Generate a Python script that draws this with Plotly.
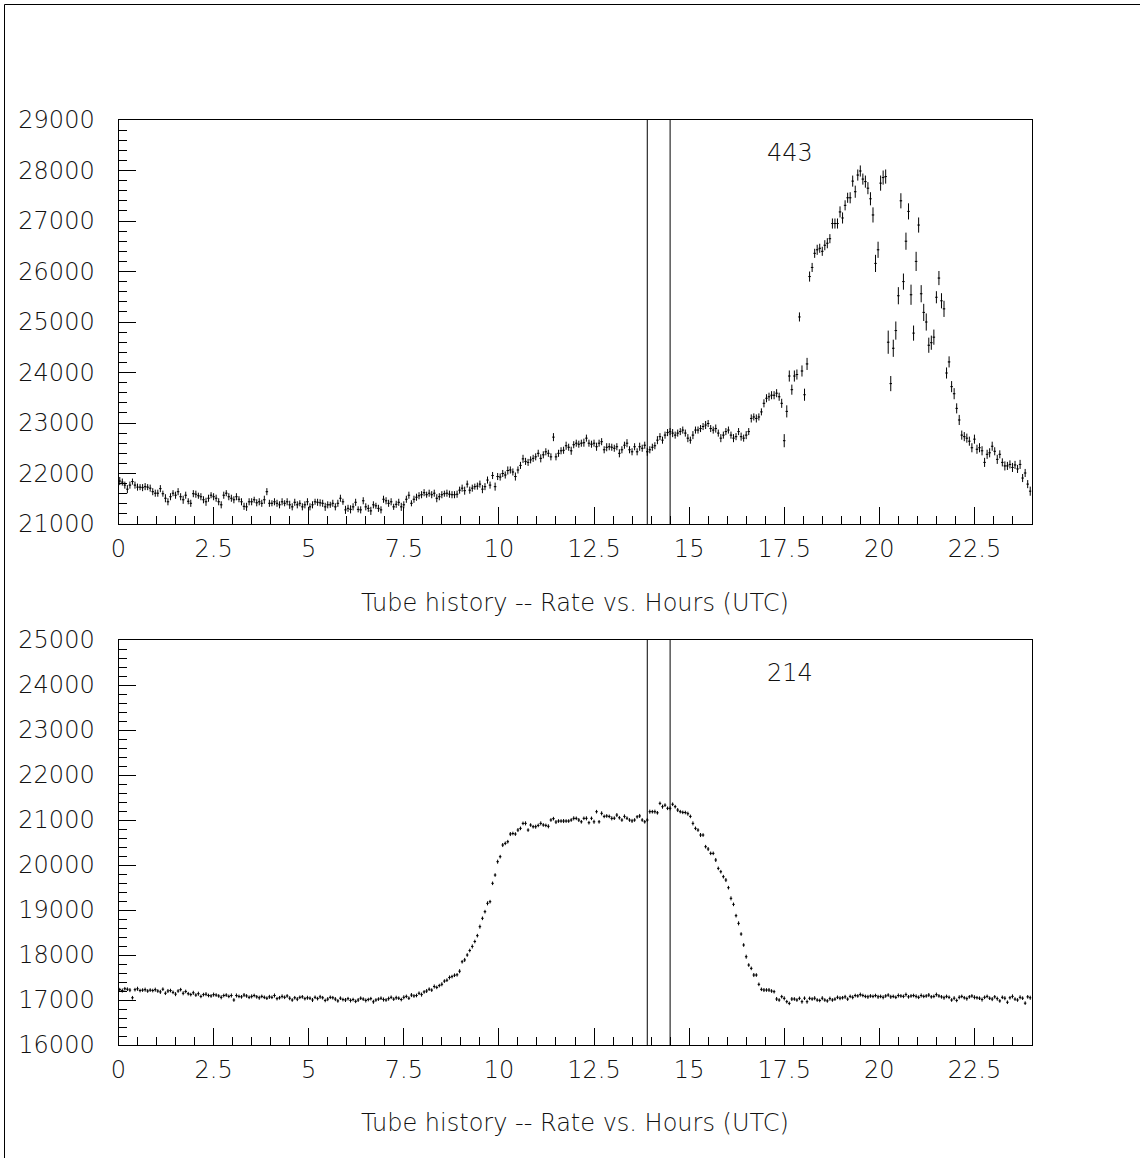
import plotly.graph_objects as go

# ---------------- data ----------------
bin_width_h = 4.0 / 60.0          # 4-minute bins
n_bins = 360
bin_centers = [(i + 0.5) * bin_width_h for i in range(n_bins)]

tube_top = "443"
tube_bottom = "214"
marker_hours = [13.9, 14.5]
x_title = "Tube history -- Rate vs. Hours (UTC)"

# rate of tube 443 (15 bins per hour, one row per hour)
rate_443 = [
    21850, 21830, 21770, 21690, 21770, 21840, 21770, 21730, 21730, 21720, 21740, 21730, 21710, 21640, 21610,
    21610, 21700, 21600, 21510, 21440, 21540, 21610, 21570, 21640, 21540, 21480, 21570, 21450, 21410, 21600,
    21590, 21560, 21540, 21480, 21440, 21510, 21570, 21540, 21510, 21440, 21380, 21570, 21610, 21540, 21510,
    21480, 21540, 21490, 21440, 21350, 21340, 21440, 21440, 21480, 21420, 21440, 21410, 21480, 21640, 21410,
    21410, 21440, 21410, 21380, 21440, 21410, 21440, 21380, 21340, 21430, 21380, 21410, 21340, 21380, 21440,
    21340, 21380, 21440, 21430, 21420, 21410, 21340, 21380, 21380, 21410, 21340, 21410, 21510, 21440, 21280,
    21310, 21290, 21340, 21430, 21290, 21280, 21460, 21340, 21310, 21260, 21380, 21360, 21310, 21280, 21490,
    21460, 21410, 21440, 21340, 21390, 21430, 21340, 21380, 21490, 21570, 21410, 21490, 21530, 21560, 21580,
    21620, 21580, 21610, 21580, 21610, 21510, 21540, 21580, 21600, 21610, 21590, 21580, 21580, 21590, 21670,
    21710, 21660, 21790, 21670, 21710, 21740, 21750, 21790, 21690, 21740, 21870, 21770, 21960, 21740, 21940,
    21930, 22000, 21970, 22060, 22070, 22030, 21940, 22070, 22160, 22290, 22240, 22220, 22270, 22300, 22330,
    22400, 22300, 22370, 22430, 22400, 22330, 22720, 22330, 22400, 22450, 22460, 22550, 22520, 22450, 22570,
    22600, 22580, 22600, 22610, 22700, 22600, 22580, 22600, 22530, 22600, 22630, 22470, 22520, 22530, 22520,
    22500, 22530, 22400, 22470, 22560, 22600, 22470, 22430, 22530, 22430, 22530, 22500, 22560, 22430, 22470,
    22520, 22550, 22660, 22730, 22660, 22760, 22810, 22830, 22800, 22760, 22800, 22830, 22860, 22800, 22700,
    22660, 22760, 22860, 22860, 22890, 22930, 22960, 22990, 22890, 22860, 22890, 22800, 22700, 22760, 22830,
    22860, 22760, 22700, 22730, 22830, 22730, 22700, 22760, 22830, 23090, 23120, 23090, 23120, 23220, 23390,
    23490, 23520, 23550, 23550, 23590, 23520, 23390, 22650, 23230, 23930, 23660, 23930, 23960, 25100, 24030,
    23560, 24170, 25900, 26080, 26360, 26430, 26460, 26400, 26520, 26560, 26650, 26950, 26950, 26950, 27180,
    27060, 27310, 27460, 27460, 27790, 27580, 27910, 27990, 27830, 27780, 27650, 27440, 27120, 26160, 26430,
    27750, 27860, 27880, 24600, 23780, 24480, 24830, 25520, 27400, 25800, 26600, 27190, 25540, 24780, 26200,
    26920, 25560, 25190, 25000, 24540, 24590, 24700, 25490, 25870, 25420, 25260, 23990, 24210, 23720, 23580,
    23290, 23060, 22760, 22730, 22700, 22640, 22510, 22680, 22480, 22510, 22450, 22220, 22380, 22410, 22540,
    22440, 22280, 22380, 22220, 22150, 22150, 22180, 22120, 22170, 22090, 22180, 21910, 22010, 21790, 21650,
]

err_443 = [
    80, 70, 70, 80, 70, 60, 70, 70, 60, 70, 70, 60, 70, 70, 70,
    70, 70, 60, 80, 70, 70, 60, 70, 70, 70, 80, 70, 60, 70, 70,
    70, 60, 70, 70, 80, 70, 60, 70, 70, 70, 70, 70, 60, 70, 70,
    70, 70, 60, 70, 70, 80, 70, 70, 60, 70, 70, 70, 80, 70, 70,
    60, 70, 70, 70, 70, 60, 70, 80, 70, 70, 70, 60, 70, 70, 70,
    70, 70, 60, 70, 70, 70, 80, 70, 60, 70, 70, 70, 70, 60, 80,
    70, 80, 70, 70, 60, 70, 70, 70, 70, 80, 70, 60, 70, 70, 70,
    70, 70, 70, 60, 70, 70, 80, 70, 70, 70, 60, 70, 70, 70, 70,
    70, 60, 70, 70, 70, 80, 70, 70, 60, 70, 70, 70, 70, 70, 70,
    70, 80, 70, 70, 70, 60, 70, 70, 80, 70, 70, 70, 70, 80, 70,
    70, 70, 70, 80, 70, 70, 80, 70, 70, 80, 70, 70, 70, 70, 70,
    70, 80, 70, 70, 70, 70, 80, 70, 70, 70, 70, 80, 70, 80, 70,
    70, 70, 70, 80, 70, 70, 70, 70, 80, 70, 70, 70, 80, 70, 70,
    70, 70, 80, 70, 70, 80, 70, 70, 70, 70, 80, 70, 70, 80, 70,
    70, 70, 80, 70, 70, 70, 70, 70, 80, 70, 70, 70, 70, 70, 80,
    70, 80, 70, 70, 70, 70, 80, 70, 70, 70, 80, 70, 80, 70, 70,
    70, 70, 80, 70, 70, 80, 70, 80, 70, 80, 70, 80, 70, 70, 80,
    80, 80, 80, 80, 80, 80, 90, 130, 120, 110, 100, 110, 100, 90, 110,
    120, 120, 100, 90, 90, 100, 90, 90, 100, 100, 90, 100, 100, 100, 110,
    110, 100, 100, 110, 110, 120, 110, 110, 110, 120, 120, 130, 150, 170, 160,
    150, 140, 140, 230, 150, 170, 180, 170, 150, 160, 170, 160, 200, 150, 190,
    150, 170, 170, 170, 150, 140, 150, 120, 140, 150, 160, 110, 110, 110, 110,
    100, 100, 90, 90, 90, 90, 90, 90, 90, 90, 90, 90, 90, 90, 90,
    80, 90, 80, 80, 90, 80, 80, 90, 80, 80, 90, 80, 80, 80, 90,
]

# rate of tube 214
rate_214 = [
    17230, 17210, 17250, 17240, 17220, 17050, 17230, 17250, 17210, 17220, 17230, 17200, 17220, 17210, 17230,
    17200, 17180, 17240, 17150, 17200, 17210, 17170, 17130, 17200, 17230, 17150, 17190, 17140, 17120, 17160,
    17110, 17140, 17080, 17120, 17130, 17100, 17090, 17120, 17110, 17090, 17060, 17100, 17110, 17080, 17100,
    17000, 17100, 17080, 17070, 17110, 17090, 17060, 17080, 17100, 17070, 17050, 17080, 17060, 17040, 17070,
    17060, 17100, 17030, 17050, 17080, 17060, 17090, 17040, 17000, 17050, 17020, 17060, 17070, 17030, 17050,
    17040, 17000, 17060, 17030, 17070, 17050, 16990, 17020, 17060, 17050, 17020, 16980, 17040, 17010, 17000,
    17030, 16990, 17010, 16970, 17000, 17040, 17020, 16990, 17010, 17030, 16960, 17000, 17020, 17040, 17010,
    17000, 17030, 17060, 17020, 17050, 17040, 17010, 17060, 17080, 17040, 17110, 17090, 17100, 17150, 17120,
    17180, 17200, 17240, 17220, 17300, 17280, 17320, 17350, 17420, 17440, 17500, 17520, 17550, 17560, 17640,
    17850, 17890, 18000, 18100, 18190, 18300, 18430, 18630, 18815, 18963, 19148, 19185, 19593, 19777, 20074,
    20185, 20444, 20481, 20518, 20688, 20700, 20688, 20777, 20814, 20925, 20925, 20777, 20888, 20851, 20851,
    20880, 20925, 20890, 20880, 20860, 21000, 21030, 20955, 20977, 20977, 20977, 20977, 20977, 21000, 21037,
    21037, 21000, 20960, 21037, 21037, 20940, 21037, 20960, 21185, 20960, 21148, 21080, 21090, 21080, 21037,
    21040, 21110, 21050, 21000, 21080, 21040, 21000, 20980, 21000, 21070, 21090, 21000, 20960, 21000, 21185,
    21185, 21185, 21160, 21370, 21296, 21330, 21260, 21260, 21350, 21296, 21222, 21185, 21170, 21166, 21140,
    21080, 20925, 20814, 20777, 20666, 20666, 20407, 20355, 20259, 20259, 20111, 19925, 19851, 19740, 19666,
    19496, 19259, 19125, 18874, 18703, 18466, 18222, 17962, 17777, 17703, 17555, 17555, 17348, 17237, 17222,
    17222, 17222, 17200, 17185, 17022, 17000, 17074, 17037, 16963, 16925, 17022, 17022, 17000, 17037, 16963,
    17040, 16963, 17037, 17022, 17040, 17000, 16990, 17040, 17000, 16980, 17030, 17000, 17020, 17060, 17040,
    17050, 17070, 17020, 17080, 17060, 17100, 17090, 17120, 17100, 17080, 17070, 17090, 17080, 17100, 17070,
    17080, 17060, 17090, 17110, 17070, 17080, 17060, 17100, 17090, 17080, 17120, 17070, 17090, 17100, 17080,
    17060, 17100, 17080, 17090, 17110, 17070, 17080, 17120, 17090, 17070, 17050, 17080, 17060, 17000, 17040,
    16990, 17060, 17080, 17050, 17030, 17070, 17090, 17060, 17050, 17040, 17010, 17060, 17080, 17040, 17020,
    17070, 17030, 16980, 17060, 17040, 16950, 17050, 17080, 17020, 17000, 17060, 17040, 16930, 17070, 17050,
]

err_214_hour = [40, 45, 40, 40, 45, 40, 40, 45, 40, 40, 45, 40, 40, 40, 45]
err_214 = err_214_hour * 24

# ---------------- figure ----------------
FONT = "DejaVu Sans"
TXT = "#111111"
FS = 24
W, H = 1140, 1158

def px_x(v):
    return v / W

def px_y(v):
    return 1 - v / H

fig = go.Figure()

for rate, err, xa, ya in [(rate_443, err_443, "x", "y"), (rate_214, err_214, "x2", "y2")]:
    fig.add_trace(go.Scatter(
        x=bin_centers, y=rate, mode="markers",
        marker=dict(size=1, color="black"),
        error_x=dict(type="constant", value=bin_width_h / 2, width=0, thickness=1, color="black"),
        error_y=dict(type="data", array=err, width=0, thickness=1, color="black"),
        xaxis=xa, yaxis=ya, showlegend=False, hoverinfo="skip",
    ))

tickfont = dict(family=FONT, size=FS, color=TXT, weight=200)
xdom = [px_x(118.5), px_x(1031.5)]
common_x = dict(
    range=[0, 24], tickmode="linear", tick0=0, dtick=2.5,
    ticks="inside", ticklen=17, tickwidth=1, tickcolor="black",
    showline=True, mirror=True, linecolor="black", linewidth=1,
    showgrid=False, zeroline=False, automargin=False,
    minor=dict(dtick=0.5, tick0=0, ticks="inside", ticklen=8, tickwidth=1,
               tickcolor="black", showgrid=False),
    tickfont=tickfont,
    ticklabelstandoff=3,
    domain=xdom,
)
common_y = dict(
    tickmode="linear", dtick=1000, tickformat="d",
    ticks="inside", ticklen=17, tickwidth=1, tickcolor="black",
    showline=True, mirror=True, linecolor="black", linewidth=1,
    showgrid=False, zeroline=False, automargin=False,
    minor=dict(dtick=200, ticks="inside", ticklen=8, tickwidth=1,
               tickcolor="black", showgrid=False),
    tickfont=tickfont,
    ticklabelstandoff=18,
)

fig.update_layout(
    template="none",
    width=W, height=H, autosize=False,
    margin=dict(l=0, r=0, t=0, b=0, pad=0, autoexpand=False),
    paper_bgcolor="white", plot_bgcolor="white",
    showlegend=False,
    xaxis=dict(common_x, anchor="y"),
    yaxis=dict(common_y, anchor="x", range=[21000, 29000], tick0=21000,
               domain=[px_y(524), px_y(120)]),
    xaxis2=dict(common_x, anchor="y2"),
    yaxis2=dict(common_y, anchor="x2", range=[16000, 25000], tick0=16000,
                domain=[px_y(1045), px_y(640)]),
)

shapes = []
for xr, yr in [("x", "y domain"), ("x2", "y2 domain")]:
    for h in marker_hours:
        shapes.append(dict(type="line", xref=xr, yref=yr, x0=h, x1=h, y0=0, y1=1,
                           line=dict(color="black", width=1)))
# outer canvas frame (top and left edges)
shapes.append(dict(type="line", xref="paper", yref="paper", x0=px_x(4.5), x1=1.0,
                   y0=px_y(4.5), y1=px_y(4.5), line=dict(color="black", width=1)))
shapes.append(dict(type="line", xref="paper", yref="paper", x0=px_x(4.5), x1=px_x(4.5),
                   y0=0.0, y1=px_y(4.5), line=dict(color="black", width=1)))
fig.update_layout(shapes=shapes)

tfont = dict(family=FONT, size=FS, color=TXT, weight=200)
fig.add_annotation(text=tube_top, x=px_x(790), y=px_y(153), xref="paper", yref="paper",
                   showarrow=False, xanchor="center", yanchor="middle", font=tfont)
fig.add_annotation(text=tube_bottom, x=px_x(790), y=px_y(673), xref="paper", yref="paper",
                   showarrow=False, xanchor="center", yanchor="middle", font=tfont)
fig.add_annotation(text=x_title, x=px_x(575), y=px_y(603), xref="paper", yref="paper",
                   showarrow=False, xanchor="center", yanchor="middle", font=tfont)
fig.add_annotation(text=x_title, x=px_x(575), y=px_y(1123), xref="paper", yref="paper",
                   showarrow=False, xanchor="center", yanchor="middle", font=tfont)

fig.write_html("out.html",
               config={"displayModeBar": False, "staticPlot": True},
               post_script="document.body.style.margin='0';document.body.style.overflow='hidden';")
